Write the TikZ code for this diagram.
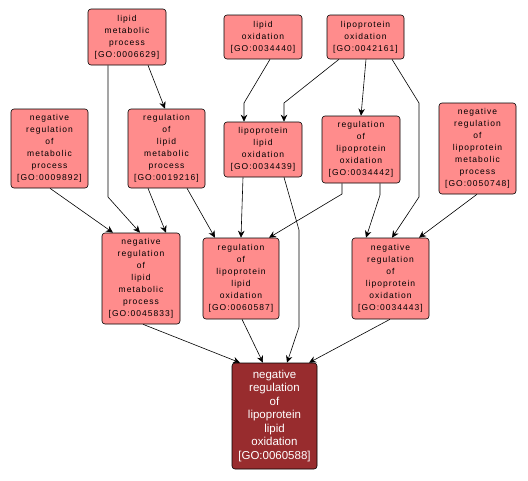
\documentclass[tikz,border=0pt]{standalone}
\usepackage{fontspec}
\setmainfont{Liberation Sans}
\newfontfamily\gofont[LetterSpace=12]{Liberation Sans}
\usetikzlibrary{arrows.meta}
\definecolor{goLight}{HTML}{FF8C8C}
\definecolor{goDark}{HTML}{982C2E}
\tikzset{
  % Ancestor term box (salmon)
  gobox/.style={rectangle,rounded corners=3pt,
    draw=black,fill=goLight,semithick,align=center,inner sep=0pt,
    font=\gofont\fontsize{8.5pt}{12pt}\selectfont,text=black},
  % Queried term box (dark red)
  gotarget/.style={rectangle,rounded corners=3pt,
    draw=black,fill=goDark,semithick,align=center,inner sep=0pt,
    font=\fontsize{11.5pt}{13.5pt}\selectfont,text=white},
  % Arrows
  arr/.style={-{Stealth[length=7pt,width=6.5pt]},semithick,color=black},
}
\begin{document}
\begin{tikzpicture}[x=1pt,y=-1pt]
  \useasboundingbox (0,0) rectangle (528,480);

  % top row
  \node[gobox,minimum width=78pt,minimum height=56pt] (n1) at (127,37)
    {lipid\\metabolic\\process\\{[}GO:0006629{]}};
  \node[gobox,minimum width=78pt,minimum height=44pt] (n2) at (263,37)
    {lipid\\oxidation\\{[}GO:0034440{]}};
  \node[gobox,minimum width=77pt,minimum height=44pt] (n3) at (365.5,37)
    {lipoprotein\\oxidation\\{[}GO:0042161{]}};

  % middle row
  \node[gobox,minimum width=77pt,minimum height=79pt] (n4) at (49.5,148.5)
    {negative\\regulation\\of\\metabolic\\process\\{[}GO:0009892{]}};
  \node[gobox,minimum width=77pt,minimum height=79pt] (n5) at (166.5,148.5)
    {regulation\\of\\lipid\\metabolic\\process\\{[}GO:0019216{]}};
  \node[gobox,minimum width=78pt,minimum height=55pt] (n6) at (263,149.5)
    {lipoprotein\\lipid\\oxidation\\{[}GO:0034439{]}};
  \node[gobox,minimum width=78pt,minimum height=67pt] (n7) at (361,149.5)
    {regulation\\of\\lipoprotein\\oxidation\\{[}GO:0034442{]}};
  \node[gobox,minimum width=77pt,minimum height=91pt] (n8) at (477.5,148.5)
    {negative\\regulation\\of\\lipoprotein\\metabolic\\process\\{[}GO:0050748{]}};

  % lower row
  \node[gobox,minimum width=78pt,minimum height=91pt] (n9) at (141,278.5)
    {negative\\regulation\\of\\lipid\\metabolic\\process\\{[}GO:0045833{]}};
  \node[gobox,minimum width=76pt,minimum height=81pt] (n10) at (241,278.5)
    {regulation\\of\\lipoprotein\\lipid\\oxidation\\{[}GO:0060587{]}};
  \node[gobox,minimum width=77pt,minimum height=81pt] (n11) at (390.5,278.5)
    {negative\\regulation\\of\\lipoprotein\\oxidation\\{[}GO:0034443{]}};

  % queried term
  \node[gotarget,minimum width=85pt,minimum height=106pt] (n12) at (274.5,416)
    {negative\\regulation\\of\\lipoprotein\\lipid\\oxidation\\{[}GO:0060588{]}};

  % edges
  \draw[arr] ([xshift=-19pt]n1.south) -- (108,197) -- ([xshift=-1pt]n9.north);
  \draw[arr] ([xshift=21pt]n1.south) -- ([xshift=-1.5pt]n5.north);
  \draw[arr] ([xshift=0.5pt]n4.south) -- ([xshift=-28pt]n9.north);
  \draw[arr] ([xshift=-18.5pt]n5.south) -- ([xshift=25pt]n9.north);
  \draw[arr] ([xshift=20.5pt]n5.south) -- ([xshift=-26pt]n10.north);
  \draw[arr] ([xshift=-20pt]n6.south) -- (n10.north);
  \draw[arr] ([xshift=7pt]n2.south) -- (244,103) -- ([xshift=-19pt]n6.north);
  \draw[arr] ([xshift=-26.5pt]n3.south) -- (284,103) -- ([xshift=21pt]n6.north);
  \draw[arr] ([xshift=0.5pt]n3.south) -- (n7.north);
  \draw[arr] ([xshift=26.5pt]n3.south) -- (419,103) -- (419,197) -- ([xshift=1.5pt]n11.north);
  \draw[arr] ([xshift=21pt]n6.south) -- (299,230) -- (299,327) -- ([xshift=12.5pt]n12.north);
  \draw[arr] ([xshift=-19pt]n7.south) -- (342,194) -- ([xshift=28pt]n10.north);
  \draw[arr] ([xshift=19pt]n7.south) -- (380,195) -- ([xshift=-24.5pt]n11.north);
  \draw[arr] ([xshift=-0.5pt]n8.south) -- ([xshift=28.5pt]n11.north);
  \draw[arr] ([xshift=2pt]n9.south) -- ([xshift=-34.5pt]n12.north);
  \draw[arr] ([xshift=1pt]n10.south) -- ([xshift=-11.5pt]n12.north);
  \draw[arr] ([xshift=-0.5pt]n11.south) -- ([xshift=34.5pt]n12.north);
\end{tikzpicture}
\end{document}
